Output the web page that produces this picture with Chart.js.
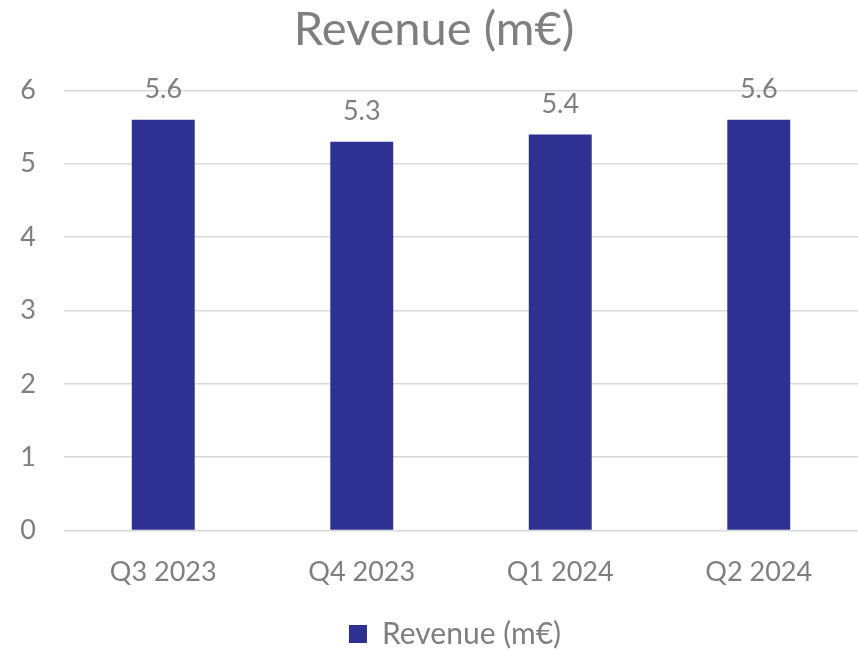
<!DOCTYPE html>
<html><head><meta charset="utf-8">
<script src="https://cdn.jsdelivr.net/npm/chart.js@4/dist/chart.umd.min.js"></script>
<style>html,body{margin:0;padding:0;background:#fff;}#wrap{width:858px;height:649px;}</style>
</head><body><div id="wrap"><canvas id="c" width="858" height="649"></canvas></div>
<script>
const categories = ["Q3 2023", "Q4 2023", "Q1 2024", "Q2 2024"];
const revenue = [5.6, 5.3, 5.4, 5.6];
const seriesName = "Revenue (m€)";
const titleText = "Revenue (m€)";
const yTicks = [0, 1, 2, 3, 4, 5, 6];

const FONT = "Lato, 'Open Sans', sans-serif";
const GREY = "#7f7f7f";
const BAR = "#2e3192";

const labelPlugin = {
  id: "barLabels",
  afterLayout(chart) {
    if (chart.legend) { chart.legend.left += 21; chart.legend.right += 21; }
  },
  afterDatasetsDraw(chart) {
    const ctx = chart.ctx;
    chart.data.datasets.forEach((ds, i) => {
      const meta = chart.getDatasetMeta(i);
      meta.data.forEach((el, j) => {
        ctx.save();
        ctx.fillStyle = GREY;
        ctx.font = "27px " + FONT;
        ctx.textAlign = "center";
        ctx.textBaseline = "middle";
        ctx.fillText(ds.data[j].toFixed(1), el.x, el.y - 30);
        ctx.restore();
      });
    });
  }
};

new Chart(document.getElementById("c"), {
  type: "bar",
  data: {
    labels: categories,
    datasets: [{
      label: seriesName,
      data: revenue,
      backgroundColor: BAR,
      borderWidth: 0,
      barPercentage: 1,
      categoryPercentage: 0.317
    }]
  },
  options: {
    responsive: false,
    animation: false,
    layout: { padding: { left: 10, right: 0, top: 0, bottom: -10 } },
    plugins: {
      title: {
        display: true, text: titleText, color: GREY,
        font: { family: FONT, size: 47, weight: "normal" },
        padding: { top: 2, bottom: 32 }
      },
      legend: {
        display: true, position: "bottom",
        labels: { color: GREY, font: { family: FONT, size: 30, lineHeight: 1.0 }, boxWidth: 18, boxHeight: 18, padding: 0 }
      },
      tooltip: { enabled: false }
    },
    scales: {
      x: {
        grid: { display: false },
        border: { display: false },
        ticks: { color: GREY, font: { family: FONT, size: 27 }, padding: 17 },
        afterFit(s) { s.height += 14; }
      },
      y: {
        min: 0, max: 6,
        afterBuildTicks(s) { s.ticks = yTicks.map(v => ({ value: v })); },
        grid: { color: "#d9d9d9", lineWidth: 1.5, drawTicks: false },
        border: { display: false },
        ticks: { color: GREY, font: { family: FONT, size: 27 }, padding: 28 },
        afterFit(s) { s.width = 54; }
      }
    }
  },
  plugins: [labelPlugin]
});
</script></body></html>
